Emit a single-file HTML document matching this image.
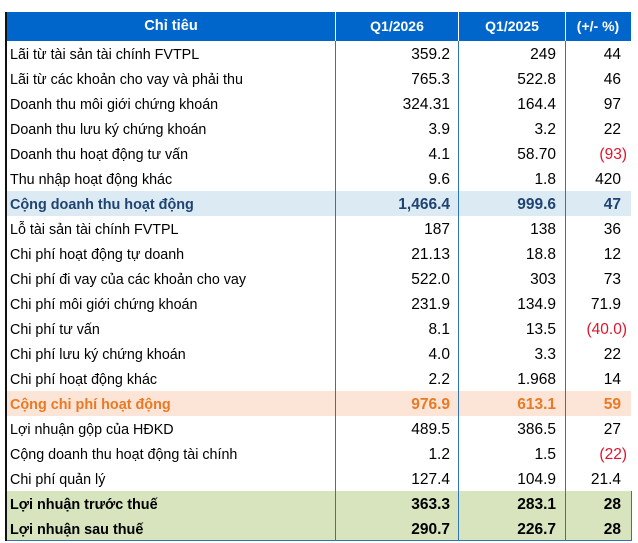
<!DOCTYPE html>
<html>
<head>
<meta charset="utf-8">
<style>
  html, body { margin:0; padding:0; }
  body { width:638px; height:542px; background:#fff; position:relative; overflow:hidden;
         font-family:"Liberation Sans", Arial, sans-serif; color:#000; }
  .lb { position:absolute; left:5px; top:12px; width:2px; height:529px; background:#111; }
  .hdr { position:absolute; left:7px; top:12px; width:624px; height:29px; background:#0066CC; }
  .hdr div { position:absolute; top:0; height:29px; line-height:29px; color:#fff; font-weight:bold;
             font-size:14px; text-align:center; }
  .row { position:absolute; left:7px; width:624px; height:25px; }
  .row .l { position:absolute; left:3px; top:1.5px; line-height:25px; font-size:14.3px; white-space:nowrap; }
  .row .n { position:absolute; top:1px; line-height:25px; font-size:15.5px; text-align:right; white-space:nowrap; }
  .c2 { right:181px; }   /* right edge ~450 */
  .c3 { right:75px; }    /* right edge ~556 */
  .c4 { right:10px; }    /* right edge ~621 */
  .c4.neg { right:4px; color:#E0142B; }
  .b .l, .b .n { font-weight:bold; }
  .b .l { font-size:14.4px; }
  .blue { background:#DCEBF3; color:#1F4372; }
  .orange { background:#FCE4D6; color:#E97A25; }
  .green { background:#D7E4BD; color:#000; }
  .vl { position:absolute; top:41px; height:500px; width:1px; background:#2E75B6; }
  .hl { position:absolute; top:12px; height:29px; width:1px; background:#fff; }
  .bb { position:absolute; left:7px; top:540px; width:625px; height:1px; background:#2E75B6; }
  .rb { position:absolute; left:631px; top:491px; width:1px; height:50px; background:#2E75B6; }
</style>
</head>
<body>
<div class="lb"></div>
<div class="hdr">
  <div style="left:0;width:328px;font-size:14.6px;">Chỉ tiêu</div>
  <div style="left:328px;width:124px;">Q1/2026</div>
  <div style="left:452px;width:106px;">Q1/2025</div>
  <div style="left:558px;width:66px;">(+/- %)</div>
</div>

<div class="row" style="top:41px;"><span class="l">Lãi từ tài sản tài chính FVTPL</span><span class="n c2">359.2</span><span class="n c3">249</span><span class="n c4">44</span></div>
<div class="row" style="top:66px;"><span class="l">Lãi từ các khoản cho vay và phải thu</span><span class="n c2">765.3</span><span class="n c3">522.8</span><span class="n c4">46</span></div>
<div class="row" style="top:91px;"><span class="l">Doanh thu môi giới chứng khoán</span><span class="n c2">324.31</span><span class="n c3">164.4</span><span class="n c4">97</span></div>
<div class="row" style="top:116px;"><span class="l">Doanh thu lưu ký chứng khoán</span><span class="n c2">3.9</span><span class="n c3">3.2</span><span class="n c4">22</span></div>
<div class="row" style="top:141px;"><span class="l">Doanh thu hoạt động tư vấn</span><span class="n c2">4.1</span><span class="n c3">58.70</span><span class="n c4 neg">(93)</span></div>
<div class="row" style="top:166px;"><span class="l">Thu nhập hoạt động khác</span><span class="n c2">9.6</span><span class="n c3">1.8</span><span class="n c4">420</span></div>
<div class="row b blue" style="top:191px;"><span class="l">Cộng doanh thu hoạt động</span><span class="n c2">1,466.4</span><span class="n c3">999.6</span><span class="n c4">47</span></div>
<div class="row" style="top:216px;"><span class="l">Lỗ tài sản tài chính FVTPL</span><span class="n c2">187</span><span class="n c3">138</span><span class="n c4">36</span></div>
<div class="row" style="top:241px;"><span class="l">Chi phí hoạt động tự doanh</span><span class="n c2">21.13</span><span class="n c3">18.8</span><span class="n c4">12</span></div>
<div class="row" style="top:266px;"><span class="l">Chi phí đi vay của các khoản cho vay</span><span class="n c2">522.0</span><span class="n c3">303</span><span class="n c4">73</span></div>
<div class="row" style="top:291px;"><span class="l">Chi phí môi giới chứng khoán</span><span class="n c2">231.9</span><span class="n c3">134.9</span><span class="n c4">71.9</span></div>
<div class="row" style="top:316px;"><span class="l">Chi phí tư vấn</span><span class="n c2">8.1</span><span class="n c3">13.5</span><span class="n c4 neg">(40.0)</span></div>
<div class="row" style="top:341px;"><span class="l">Chi phí lưu ký chứng khoán</span><span class="n c2">4.0</span><span class="n c3">3.3</span><span class="n c4">22</span></div>
<div class="row" style="top:366px;"><span class="l">Chi phí hoạt động khác</span><span class="n c2">2.2</span><span class="n c3">1.968</span><span class="n c4">14</span></div>
<div class="row b orange" style="top:391px;"><span class="l">Cộng chi phí hoạt động</span><span class="n c2">976.9</span><span class="n c3">613.1</span><span class="n c4">59</span></div>
<div class="row" style="top:416px;"><span class="l">Lợi nhuận gộp của HĐKD</span><span class="n c2">489.5</span><span class="n c3">386.5</span><span class="n c4">27</span></div>
<div class="row" style="top:441px;"><span class="l">Cộng doanh thu hoạt động tài chính</span><span class="n c2">1.2</span><span class="n c3">1.5</span><span class="n c4 neg">(22)</span></div>
<div class="row" style="top:466px;"><span class="l">Chi phí quản lý</span><span class="n c2">127.4</span><span class="n c3">104.9</span><span class="n c4">21.4</span></div>
<div class="row b green" style="top:491px;"><span class="l">Lợi nhuận trước thuế</span><span class="n c2">363.3</span><span class="n c3">283.1</span><span class="n c4">28</span></div>
<div class="row b green" style="top:516px;"><span class="l">Lợi nhuận sau thuế</span><span class="n c2">290.7</span><span class="n c3">226.7</span><span class="n c4">28</span></div>

<div class="hl" style="left:335px;"></div>
<div class="hl" style="left:458px;"></div>
<div class="hl" style="left:565px;"></div>
<div class="vl" style="left:335px;"></div>
<div class="vl" style="left:458px;"></div>
<div class="vl" style="left:565px;"></div>
<div class="bb"></div>
<div class="rb"></div>
</body>
</html>
